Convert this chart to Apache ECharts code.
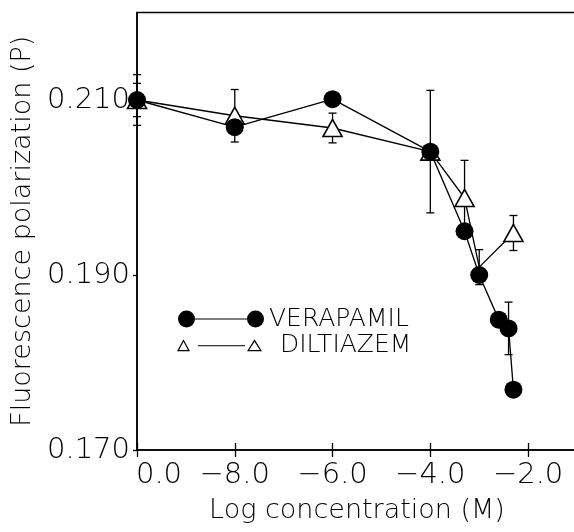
<!DOCTYPE html>
<html>
<head>
<meta charset="utf-8">
<script src="https://cdn.jsdelivr.net/npm/echarts@6/dist/echarts.min.js"></script>
<style>
  html, body { margin: 0; padding: 0; background: #fff; }
  #chart { width: 574px; height: 532px; }
</style>
</head>
<body>
<div id="chart"></div>
<script>
// Log concentration positions; -10 stands for the drug-free control ("0.0").
const verapamilX = [-10, -8, -6, -4, -3.3, -3.0, -2.6, -2.4, -2.3];
const verapamilP = [0.2100, 0.2069, 0.2101, 0.2041, 0.1950, 0.1900, 0.1849, 0.1839, 0.1769];
const verapamilErr = [0.0019, 0, 0, 0.0070, 0, 0, 0, 0.0030, 0];

const diltiazemX = [-10, -8, -6, -4, -3.3, -3.0, -2.3];
const diltiazemP = [0.2100, 0.2082, 0.2068, 0.2041, 0.1988, 0.1909, 0.1948];
const diltiazemErr = [0.0029, 0.0030, 0.0017, 0, 0.0043, 0.0020, 0.0020];

const seriesNames = ['VERAPAMIL', 'DILTIAZEM'];

const xTicks = [-10, -8, -6, -4, -2];
const xTickLabels = ['0.0', '\u22128.0', '\u22126.0', '\u22124.0', '\u22122.0'];
const yTicks = [0.17, 0.19, 0.21];
const yTickLabels = ['0.170', '0.190', '0.210'];

const FONT = 'DejaVu Sans';
const WEIGHT = 200;

function pairs(xs, ys) { return xs.map((x, i) => [x, ys[i]]); }
function errRows(xs, ys, es) {
  const rows = [];
  xs.forEach((x, i) => { if (es[i] > 0) rows.push([x, ys[i], es[i]]); });
  return rows;
}
function findIndex(list, v) {
  for (let i = 0; i < list.length; i++) if (Math.abs(list[i] - v) < 1e-6) return i;
  return -1;
}

// error bars: vertical stroke with short caps
function renderErr(params, api) {
  const x = api.value(0), y = api.value(1), e = api.value(2);
  const top = api.coord([x, y + e]);
  const bot = api.coord([x, y - e]);
  const cap = 4;
  const st = { stroke: '#000', lineWidth: 1.3 };
  return {
    type: 'group',
    children: [
      { type: 'line', shape: { x1: top[0], y1: top[1], x2: bot[0], y2: bot[1] }, style: st },
      { type: 'line', shape: { x1: top[0] - cap, y1: top[1], x2: top[0] + cap, y2: top[1] }, style: st },
      { type: 'line', shape: { x1: bot[0] - cap, y1: bot[1], x2: bot[0] + cap, y2: bot[1] }, style: st }
    ]
  };
}

// the diltiazem point at -3.0 sits under a verapamil marker: no triangle drawn there
const diltiazemData = pairs(diltiazemX, diltiazemP).map((p, i) =>
  i === 5 ? { value: p, symbol: 'none' } : p);

// legend keys: marker — line — marker
const circleKey = 'path://M0,8.5 A8.5,8.5 0 1 1 17,8.5 A8.5,8.5 0 1 1 0,8.5 Z ' +
  'M17,7.9 L69,7.9 L69,9.1 L17,9.1 Z ' +
  'M69,8.5 A8.5,8.5 0 1 1 86,8.5 A8.5,8.5 0 1 1 69,8.5 Z';
const triKey = 'path://M0,14 L6.5,2 L13,14 Z M2.1,12.8 L10.9,12.8 L6.5,4.6 Z ' +
  'M21,8 L68,8 L68,9.1 L21,9.1 Z ' +
  'M70,14 L77.5,2 L85,14 Z M72.2,12.8 L82.8,12.8 L77.5,4.6 Z ' +
  'M98,0 L98,0.001 L97.999,0 Z M0,17 L0.001,17 L0,16.999 Z';

const tickText = { fontFamily: FONT, fontWeight: WEIGHT, fontSize: 29, color: '#000' };
const nameText = { fontFamily: FONT, fontWeight: WEIGHT, fontSize: 27, color: '#000' };
const legendText = { fontFamily: FONT, fontWeight: WEIGHT, fontSize: 25, color: '#000' };

const chart = echarts.init(document.getElementById('chart'), null, { renderer: 'canvas' });

chart.setOption({
  backgroundColor: '#fff',
  animation: false,
  textStyle: { fontFamily: FONT, fontWeight: WEIGHT },
  grid: {
    left: 137, top: 12.5, width: 440, height: 437.5,
    outerBoundsMode: 'none', containLabel: false,
    show: true, borderColor: '#000', borderWidth: 1.5, backgroundColor: 'transparent'
  },
  legend: [
    {
      data: [{ name: seriesNames[0], icon: circleKey, itemStyle: { color: '#000', borderWidth: 0 } }],
      left: 178, top: 306.5, padding: 0,
      itemWidth: 86, itemHeight: 17, itemGap: 0,
      selectedMode: false,
      textStyle: legendText
    },
    {
      data: [{ name: seriesNames[1], icon: triKey, itemStyle: { color: '#000', borderWidth: 0 } }],
      left: 177, top: 333.2, padding: 0,
      itemWidth: 98, itemHeight: 17, itemGap: 0,
      selectedMode: false,
      textStyle: legendText
    }
  ],
  xAxis: [
    {
      type: 'value', min: -10, max: -1, interval: 2,
      name: 'Log concentration (M)', nameLocation: 'middle', nameGap: 47,
      nameTextStyle: nameText,
      axisLine: { show: true, lineStyle: { color: '#000', width: 1.5 } },
      axisTick: { show: true, inside: false, length: 7, lineStyle: { color: '#000', width: 1.3 } },
      axisLabel: Object.assign({}, tickText, {
        margin: 11,
        showMaxLabel: false,
        formatter: function (v) {
          const i = findIndex(xTicks, v);
          if (i < 0) return '';
          return i === 0 ? '{first|' + xTickLabels[i] + '}' : xTickLabels[i];
        },
        rich: { first: Object.assign({}, tickText, { padding: [0, 0, 0, 44] }) }
      }),
      splitLine: { show: false }
    },
    {
      // upward half of the crossing x ticks
      type: 'value', min: -10, max: -1, interval: 2,
      position: 'top', offset: -437.5,
      axisLine: { show: false },
      axisTick: { show: true, inside: false, length: 7, lineStyle: { color: '#000', width: 1.3 } },
      axisLabel: { show: false },
      splitLine: { show: false }
    }
  ],
  yAxis: {
    type: 'value', min: 0.17, max: 0.22, interval: 0.02,
    name: 'Fluorescence polarization (P)', nameLocation: 'middle', nameGap: 100,
    nameTextStyle: nameText,
    axisLine: { show: true, lineStyle: { color: '#000', width: 1.5 } },
    axisTick: { show: true, inside: false, length: 4, lineStyle: { color: '#000', width: 1.3 } },
    axisLabel: Object.assign({}, tickText, {
      margin: 7,
      showMaxLabel: false,
      formatter: function (v) {
        const i = findIndex(yTicks, v);
        return i < 0 ? '' : yTickLabels[i];
      }
    }),
    splitLine: { show: false }
  },
  series: [
    {
      type: 'custom', name: 'err-d', xAxisIndex: 0,
      renderItem: renderErr, clip: false, z: 2,
      data: errRows(diltiazemX, diltiazemP, diltiazemErr)
    },
    {
      type: 'custom', name: 'err-v', xAxisIndex: 0,
      renderItem: renderErr, clip: false, z: 2,
      data: errRows(verapamilX, verapamilP, verapamilErr)
    },
    {
      type: 'line', name: seriesNames[1], xAxisIndex: 0, z: 3,
      data: diltiazemData,
      symbol: 'triangle', symbolSize: [19, 17], showAllSymbol: true,
      lineStyle: { color: '#000', width: 1.3 },
      itemStyle: { color: '#fff', borderColor: '#000', borderWidth: 1.6 },
      clip: false
    },
    {
      type: 'line', name: seriesNames[0], xAxisIndex: 0, z: 4,
      data: pairs(verapamilX, verapamilP),
      symbol: 'circle', symbolSize: 18, showAllSymbol: true,
      lineStyle: { color: '#000', width: 1.3 },
      itemStyle: { color: '#000', borderColor: '#000', borderWidth: 0 },
      clip: false
    }
  ]
});
</script>
</body>
</html>
